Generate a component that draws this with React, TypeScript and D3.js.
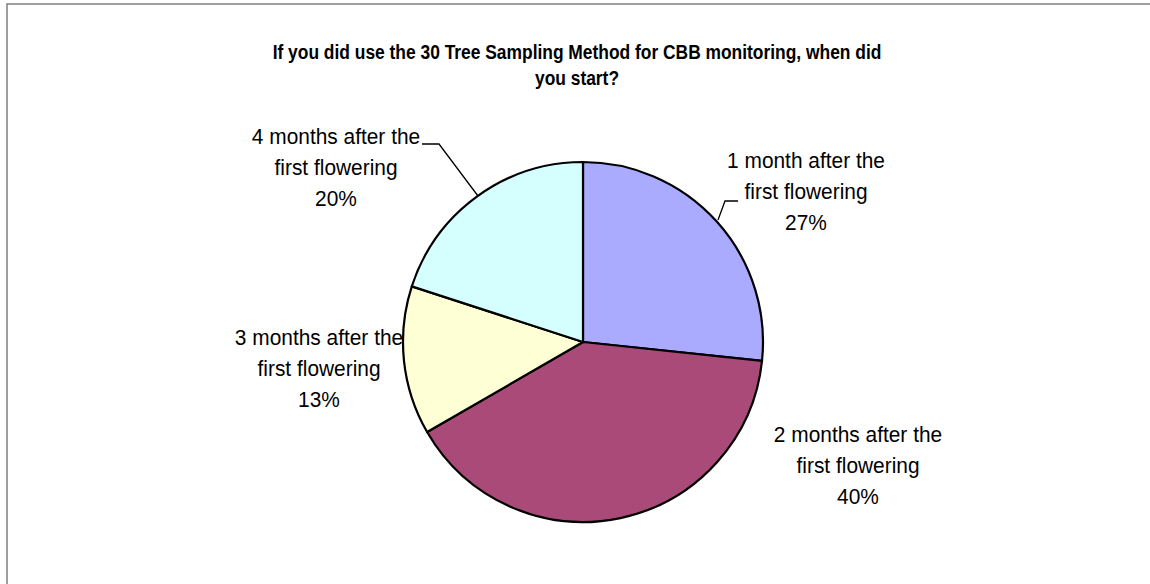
import React from "react";
import * as d3 from "d3";

const categories = [
  "1 month after the first flowering",
  "2 months after the first flowering",
  "3 months after the first flowering",
  "4 months after the first flowering",
];
const counts = [4, 6, 2, 3];
const percentLabels = ["27%", "40%", "13%", "20%"];
const colors = ["#AAAAFF", "#A94A78", "#FFFFD5", "#D5FFFF"];
const titleLines = [
  "If you did use the 30 Tree Sampling Method for CBB monitoring, when did",
  "you start?",
];

const W = 1150;
const H = 584;
const cx = 583;
const cy = 342;
const R = 180;
const FONT = "'Liberation Sans', Arial, sans-serif";

// label anchor (center x, first baseline y) per slice
const labelPos = [
  { x: 806, y: 168 },
  { x: 858, y: 442 },
  { x: 319, y: 345 },
  { x: 336, y: 144 },
];
const lineH = 31;
const labelSX = 0.95;
const titleSX = 0.87;

export default function App() {
  const pie = d3.pie<number>().sort(null).startAngle(0).endAngle(2 * Math.PI);
  const arcs = pie(counts);
  const arc = d3.arc<d3.PieArcDatum<number>>().innerRadius(0).outerRadius(R);

  return (
    <svg
      width={W}
      height={H}
      style={{ position: "absolute", left: 0, top: 0, background: "#fff" }}
      fontFamily={FONT}
    >
      <rect x={7} y={4} width={W + 20} height={H + 20} fill="#fff" stroke="#7f7f7f" strokeWidth={1.5} />
      {titleLines.map((t, i) => (
        <text
          key={i}
          transform={`translate(577,${59 + i * 26}) scale(${titleSX},1)`}
          textAnchor="middle"
          fontSize={20}
          fontWeight="bold"
          fill="#000"
        >
          {t}
        </text>
      ))}
      <g transform={`translate(${cx},${cy})`}>
        {arcs.map((a, i) => (
          <path key={i} d={arc(a) || ""} fill={colors[i]} stroke="#000" strokeWidth={2.2} strokeLinejoin="round" />
        ))}
      </g>
      {/* leader lines */}
      <polyline points="738,201 725,201 718,220" fill="none" stroke="#000" strokeWidth={1.3} />
      <polyline points="422,144 439,144 478,196" fill="none" stroke="#000" strokeWidth={1.3} />
      {categories.map((c, i) => {
        const words = c.split(" ");
        const l1 = words.slice(0, words.length - 2).join(" ");
        const l2 = words.slice(words.length - 2).join(" ");
        const lines = [l1, l2, percentLabels[i]];
        return (
          <g key={i}>
            {lines.map((ln, j) => (
              <text
                key={j}
                transform={`translate(${labelPos[i].x},${labelPos[i].y + j * lineH}) scale(${labelSX},1)`}
                textAnchor="middle"
                fontSize={22}
                fill="#000"
              >
                {ln}
              </text>
            ))}
          </g>
        );
      })}
    </svg>
  );
}
